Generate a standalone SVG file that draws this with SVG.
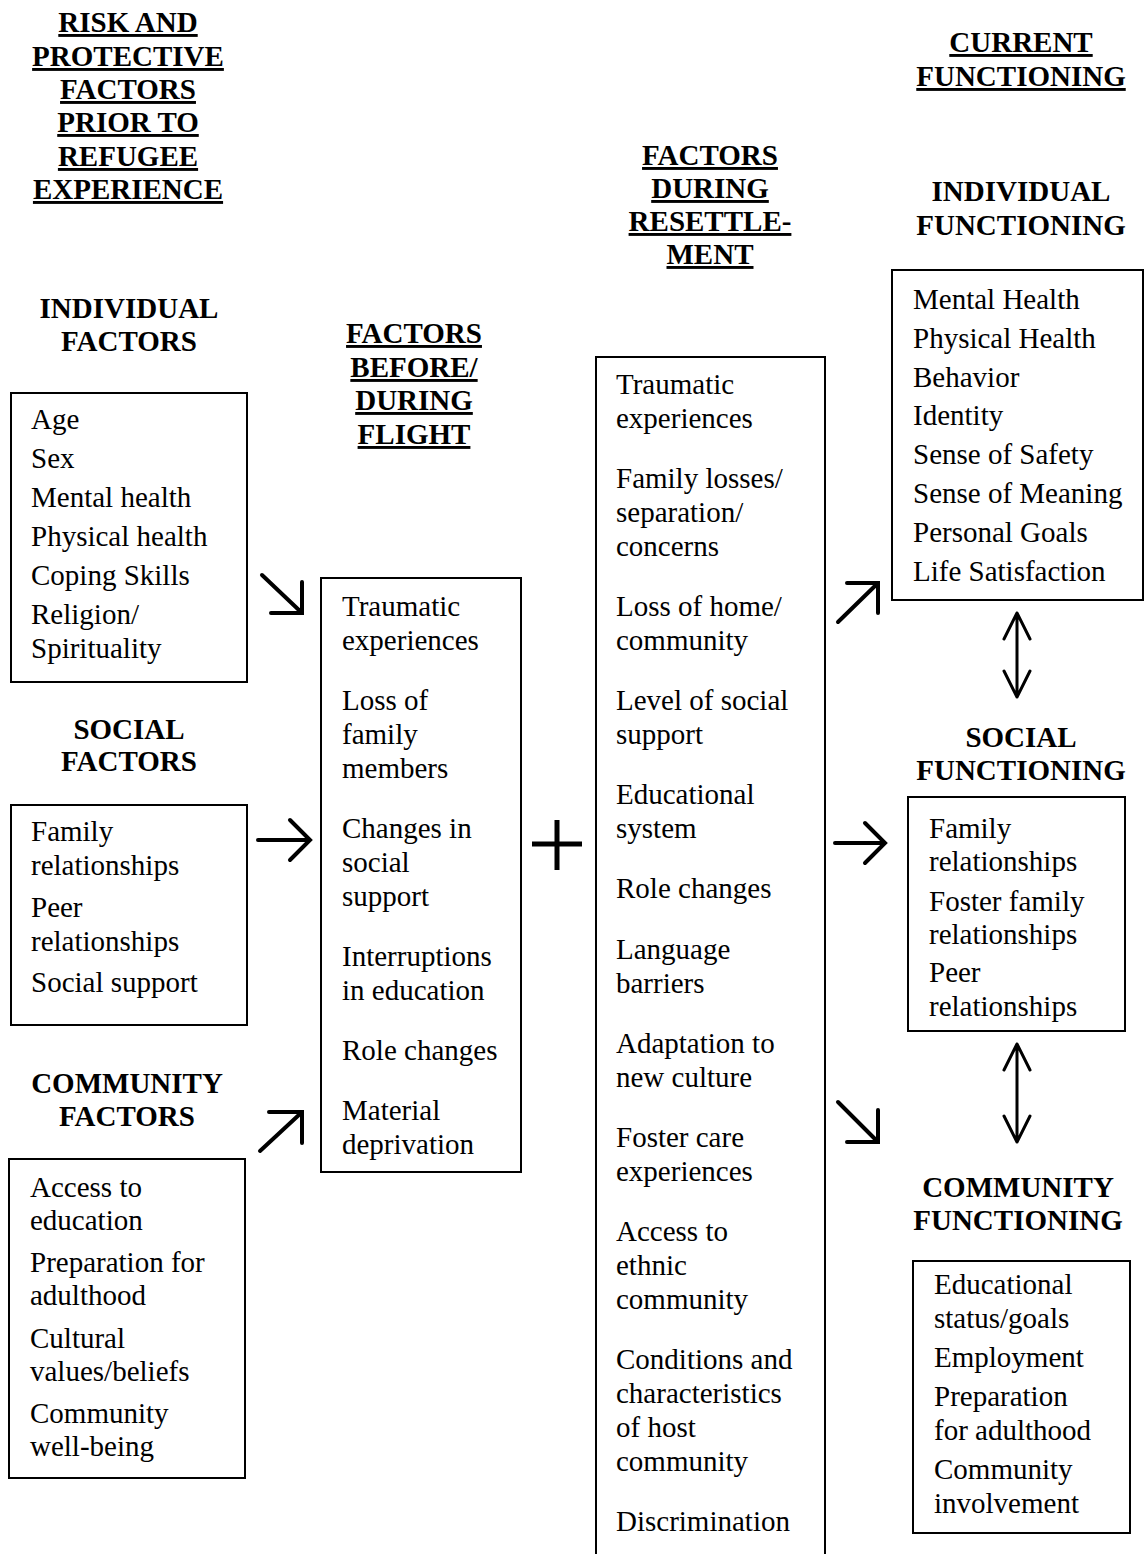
<svg xmlns="http://www.w3.org/2000/svg" width="1144" height="1554" viewBox="0 0 1144 1554">
<style>
text{font-family:"Liberation Serif","Times New Roman",serif;font-size:29px;fill:#000}
.h{font-weight:bold;text-anchor:middle}
.u{text-decoration:underline}
.box{fill:#fff;stroke:#000;stroke-width:2}
.arr{fill:none;stroke:#000;stroke-width:4;stroke-linecap:round;stroke-linejoin:miter}
.dbl{fill:none;stroke:#000;stroke-width:3;stroke-linecap:round;stroke-linejoin:round}
</style>
<rect width="1144" height="1554" fill="#fff"/>

<g id="title-prior">
<text class="h u" x="128" y="32">RISK AND</text>
<text class="h u" x="128" y="66">PROTECTIVE</text>
<text class="h u" x="128" y="99">FACTORS</text>
<text class="h u" x="128" y="132">PRIOR TO</text>
<text class="h u" x="128" y="166">REFUGEE</text>
<text class="h u" x="128" y="199">EXPERIENCE</text>
</g>

<g id="individual-factors">
<text class="h" x="129" y="318">INDIVIDUAL</text>
<text class="h" x="129" y="351">FACTORS</text>
<rect class="box" x="11" y="393" width="236" height="289"/>
<text x="31" y="429">Age</text>
<text x="31" y="468">Sex</text>
<text x="31" y="507">Mental health</text>
<text x="31" y="546">Physical health</text>
<text x="31" y="585">Coping Skills</text>
<text x="31" y="624">Religion/</text>
<text x="31" y="658">Spirituality</text>
</g>

<g id="social-factors">
<text class="h" x="129" y="739">SOCIAL</text>
<text class="h" x="129" y="771">FACTORS</text>
<rect class="box" x="11" y="805" width="236" height="220"/>
<text x="31" y="841">Family</text>
<text x="31" y="875">relationships</text>
<text x="31" y="917">Peer</text>
<text x="31" y="951">relationships</text>
<text x="31" y="992">Social support</text>
</g>

<g id="community-factors">
<text class="h" x="127" y="1093">COMMUNITY</text>
<text class="h" x="127" y="1126">FACTORS</text>
<rect class="box" x="9" y="1159" width="236" height="319"/>
<text x="30" y="1197">Access to</text>
<text x="30" y="1230">education</text>
<text x="30" y="1272">Preparation for</text>
<text x="30" y="1305">adulthood</text>
<text x="30" y="1348">Cultural</text>
<text x="30" y="1381">values/beliefs</text>
<text x="30" y="1423">Community</text>
<text x="30" y="1456">well-being</text>
</g>

<g id="flight-factors">
<text class="h u" x="414" y="343">FACTORS</text>
<text class="h u" x="414" y="377">BEFORE/</text>
<text class="h u" x="414" y="410">DURING</text>
<text class="h u" x="414" y="444">FLIGHT</text>
<rect class="box" x="321" y="578" width="200" height="594"/>
<text x="342" y="616">Traumatic</text>
<text x="342" y="650">experiences</text>
<text x="342" y="710">Loss of</text>
<text x="342" y="744">family</text>
<text x="342" y="778">members</text>
<text x="342" y="838">Changes in</text>
<text x="342" y="872">social</text>
<text x="342" y="906">support</text>
<text x="342" y="966">Interruptions</text>
<text x="342" y="1000">in education</text>
<text x="342" y="1060">Role changes</text>
<text x="342" y="1120">Material</text>
<text x="342" y="1154">deprivation</text>
</g>

<g id="resettlement-factors">
<text class="h u" x="710" y="165">FACTORS</text>
<text class="h u" x="710" y="198">DURING</text>
<text class="h u" x="710" y="231">RESETTLE-</text>
<text class="h u" x="710" y="264">MENT</text>
<rect class="box" x="596" y="357" width="229" height="1230"/>
<text x="616" y="394">Traumatic</text>
<text x="616" y="428">experiences</text>
<text x="616" y="488">Family losses/</text>
<text x="616" y="522">separation/</text>
<text x="616" y="556">concerns</text>
<text x="616" y="616">Loss of home/</text>
<text x="616" y="650">community</text>
<text x="616" y="710">Level of social</text>
<text x="616" y="744">support</text>
<text x="616" y="804">Educational</text>
<text x="616" y="838">system</text>
<text x="616" y="898">Role changes</text>
<text x="616" y="959">Language</text>
<text x="616" y="993">barriers</text>
<text x="616" y="1053">Adaptation to</text>
<text x="616" y="1087">new culture</text>
<text x="616" y="1147">Foster care</text>
<text x="616" y="1181">experiences</text>
<text x="616" y="1241">Access to</text>
<text x="616" y="1275">ethnic</text>
<text x="616" y="1309">community</text>
<text x="616" y="1369">Conditions and</text>
<text x="616" y="1403">characteristics</text>
<text x="616" y="1437">of host</text>
<text x="616" y="1471">community</text>
<text x="616" y="1531">Discrimination</text>
</g>

<g id="current-functioning-title">
<text class="h u" x="1021" y="52">CURRENT</text>
<text class="h u" x="1021" y="86">FUNCTIONING</text>
</g>

<g id="individual-functioning">
<text class="h" x="1021" y="201">INDIVIDUAL</text>
<text class="h" x="1021" y="235">FUNCTIONING</text>
<rect class="box" x="892" y="270" width="251" height="330"/>
<text x="913" y="309">Mental Health</text>
<text x="913" y="348">Physical Health</text>
<text x="913" y="387">Behavior</text>
<text x="913" y="425">Identity</text>
<text x="913" y="464">Sense of Safety</text>
<text x="913" y="503">Sense of Meaning</text>
<text x="913" y="542">Personal Goals</text>
<text x="913" y="581">Life Satisfaction</text>
</g>

<g id="social-functioning">
<text class="h" x="1021" y="747">SOCIAL</text>
<text class="h" x="1021" y="780">FUNCTIONING</text>
<rect class="box" x="908" y="797" width="217" height="234"/>
<text x="929" y="838">Family</text>
<text x="929" y="871">relationships</text>
<text x="929" y="911">Foster family</text>
<text x="929" y="944">relationships</text>
<text x="929" y="982">Peer</text>
<text x="929" y="1016">relationships</text>
</g>

<g id="community-functioning">
<text class="h" x="1018" y="1197">COMMUNITY</text>
<text class="h" x="1018" y="1230">FUNCTIONING</text>
<rect class="box" x="913" y="1261" width="217" height="272"/>
<text x="934" y="1294">Educational</text>
<text x="934" y="1328">status/goals</text>
<text x="934" y="1367">Employment</text>
<text x="934" y="1406">Preparation</text>
<text x="934" y="1440">for adulthood</text>
<text x="934" y="1479">Community</text>
<text x="934" y="1513">involvement</text>
</g>

<g id="connectors">
<path class="arr" d="M262 575 L301 612 M302 582 L302 613 L271 613"/>
<path class="arr" d="M258 840 L309 840 M290 820 L310 840 L290 860"/>
<path class="arr" d="M260 1151 L301 1113 M269 1112 L302 1112 L302 1143"/>
<path fill="none" stroke="#000" stroke-width="5" d="M532 844 L582 844 M557 820 L557 870"/>
<path class="arr" d="M838 622 L877 584 M847 583 L878 583 L878 613"/>
<path class="arr" d="M835 843 L884 843 M865 823 L885 843 L865 863"/>
<path class="arr" d="M838 1102 L877 1141 M878 1110 L878 1142 L847 1142"/>
<path class="dbl" d="M1017 613 L1017 697 M1004 639 L1017 613 L1030 639 M1004 671 L1017 697 L1030 671"/>
<path class="dbl" d="M1017 1044 L1017 1142 M1004 1070 L1017 1044 L1030 1070 M1004 1116 L1017 1142 L1030 1116"/>
</g>
</svg>
